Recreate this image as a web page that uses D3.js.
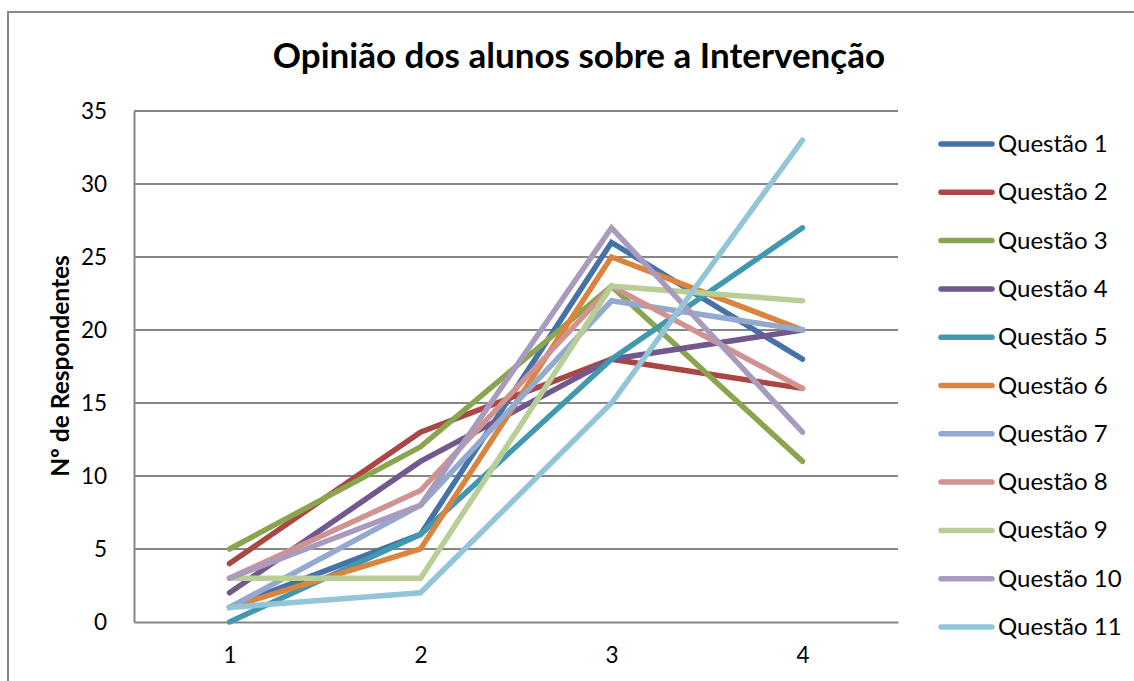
<!DOCTYPE html>
<html><head><meta charset="utf-8">
<script src="https://cdn.jsdelivr.net/npm/d3@7"></script>
<style>body{margin:0;background:#fff}</style>
</head><body>
<svg id="c" width="1134" height="681"></svg>
<script>
const categories = [1, 2, 3, 4];
const seriesNames = ["Questão 1","Questão 2","Questão 3","Questão 4","Questão 5","Questão 6","Questão 7","Questão 8","Questão 9","Questão 10","Questão 11"];
const q1  = [1, 6, 26, 18];
const q2  = [4, 13, 18, 16];
const q3  = [5, 12, 23, 11];
const q4  = [2, 11, 18, 20];
const q5  = [0, 6, 18, 27];
const q6  = [1, 5, 25, 20];
const q7  = [1, 8, 22, 20];
const q8  = [3, 9, 23, 16];
const q9  = [3, 3, 23, 22];
const q10 = [3, 8, 27, 13];
const q11 = [1, 2, 15, 33];
const seriesValues = [q1,q2,q3,q4,q5,q6,q7,q8,q9,q10,q11];
const colors = ["#4572A7","#AA4643","#89A54E","#71588F","#4198AF","#DB843D","#93A9CF","#D19392","#B9CD96","#A99BBD","#92C5D8"];
const yTicks = [0,5,10,15,20,25,30,35];
const title = "Opinião dos alunos sobre a Intervenção";
const yTitle = "Nº de Respondentes";

const font = "Lato, 'Open Sans', sans-serif";
const svg = d3.select("#c");
const L = 134, R = 898, T = 111, B = 622;

svg.append("rect").attr("x",8).attr("y",12).attr("width",1140).attr("height",700)
  .attr("fill","#fff").attr("stroke","#888").attr("stroke-width",2);

const x = d3.scalePoint().domain(categories).range([L, R]).padding(0.5);
const y = d3.scaleLinear().domain([0,35]).range([B, T]);

svg.append("g").selectAll("line").data(yTicks.filter(d=>d>0)).join("line")
  .attr("x1",L).attr("x2",R).attr("y1",d=>y(d)).attr("y2",d=>y(d))
  .attr("stroke","#868686").attr("stroke-width",2);

const ya = svg.append("g").attr("transform",`translate(${L},0)`)
  .call(d3.axisLeft(y).tickValues(yTicks).tickSize(0).tickPadding(27));
ya.select(".domain").attr("stroke","#868686").attr("stroke-width",2);
ya.selectAll("text").attr("font-family",font).attr("font-size",22.5).attr("fill","#000");

const xa = svg.append("g").attr("transform",`translate(0,${B})`)
  .call(d3.axisBottom(x).tickSize(0).tickPadding(25));
xa.select(".domain").attr("stroke","#868686").attr("stroke-width",2);
xa.selectAll("text").attr("font-family",font).attr("font-size",22.5).attr("fill","#000");

const line = d3.line().x((d,i)=>x(categories[i])).y(d=>y(d));
svg.append("g").selectAll("path").data(seriesValues).join("path")
  .attr("d",line).attr("fill","none").attr("stroke",(d,i)=>colors[i])
  .attr("stroke-width",5.5).attr("stroke-linecap","round").attr("stroke-linejoin","miter");

svg.append("text").attr("x",579).attr("y",68).attr("text-anchor","middle")
  .attr("font-family",font).attr("font-weight","bold").attr("font-size",35).text(title);

svg.append("text").attr("transform","translate(69,366) rotate(-90)").attr("text-anchor","middle")
  .attr("font-family",font).attr("font-weight","bold").attr("font-size",24.5).text(yTitle);

const lg = svg.append("g").selectAll("g").data(seriesNames).join("g")
  .attr("transform",(d,i)=>`translate(0,${144 + i*48.3})`);
lg.append("line").attr("x1",941).attr("x2",992).attr("y1",0).attr("y2",0)
  .attr("stroke",(d,i)=>colors[i]).attr("stroke-width",5.5).attr("stroke-linecap","round");
lg.append("text").attr("x",998).attr("y",8).attr("font-family",font).attr("font-size",24)
  .text(d=>d);
</script>
</body></html>
